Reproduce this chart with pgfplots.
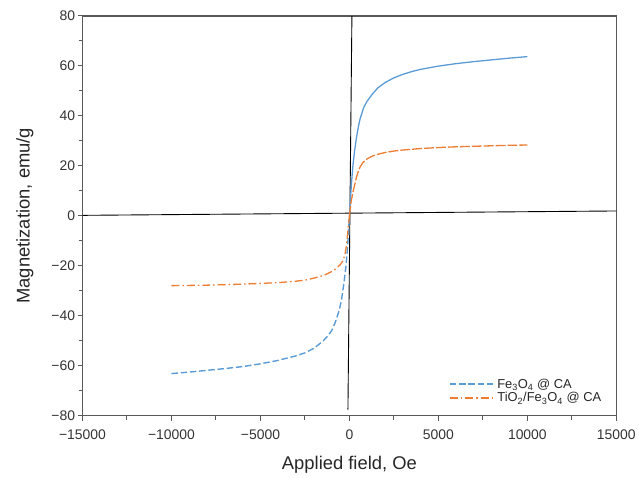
\documentclass[border=0pt]{standalone}
\usepackage{fontspec}
\setmainfont{Liberation Sans}
\usepackage{pgfplots}
\pgfplotsset{compat=1.18}

\definecolor{exblue}{HTML}{5B9BD5}
\definecolor{exorange}{HTML}{ED7D31}
\definecolor{framegray}{HTML}{595959}

\begin{document}
\begin{tikzpicture}
\begin{axis}[
  scale only axis,
  width=537pt, height=402pt,
  at={(0,0)}, anchor=south west,
  xmin=-15000, xmax=15000, ymin=-80, ymax=80,
  scaled x ticks=false,
  xtick={-15000,-10000,-5000,0,5000,10000,15000},
  xticklabels={−15000,−10000,−5000,0,5000,10000,15000},
  ytick={-80,-60,-40,-20,0,20,40,60,80},
  yticklabels={−80,−60,−40,−20,0,20,40,60,80},
  minor x tick num=1, minor y tick num=1,
  tick align=outside,
  xtick pos=bottom, ytick pos=left,
  major tick length=5pt, minor tick length=4pt,
  every tick/.style={framegray, line width=1pt},
  axis line style={framegray, line width=1.6pt},
  ticklabel style={font=\fontsize{14}{16}\selectfont, text=black!80},
  xticklabel style={yshift=-6pt},
  yticklabel style={xshift=1pt},
  xlabel={Applied field, Oe},
  ylabel={Magnetization, emu/g},
  label style={font=\fontsize{18.5}{22}\selectfont, text=black!85},
  xlabel style={at={(axis description cs:0.5,-0.122)}, anchor=center},
  ylabel style={at={(axis description cs:-0.108,0.5)}, anchor=center},
  legend style={draw=none, fill=none, font=\fontsize{13}{15}\selectfont,
    at={(1,0)}, anchor=south east, xshift=-10pt, yshift=8pt,
    row sep=-1pt, text=black!85},
  legend cell align=left,
  legend image code/.code={\draw[#1] (0pt,0pt) -- (45pt,0pt);},
]
% zero lines (slightly slanted, as in the original)
\draw[black, line width=0.9pt] (axis cs:-15000,0.15) -- (axis cs:15000,1.9);
\draw[black, line width=0.9pt] (axis cs:140,80) -- (axis cs:-84,-77.6);

% Fe3O4 @ CA
\addplot[exblue, line width=1.4pt, dash pattern=on 6.5pt off 2.8pt] coordinates {
  (-10000,-63.2) (-9000,-62.6) (-8000,-61.9) (-7000,-61.2) (-6000,-60.4)
  (-5000,-59.3) (-4000,-57.9) (-3000,-56.1) (-2500,-54.9) (-2000,-53.1)
  (-1500,-50.3) (-1200,-48.0) (-1000,-46.0) (-800,-42.8) (-600,-38.5)
  (-450,-34.0) (-300,-26.5) (-200,-20.5) (-120,-14.0) (-60,-7.5) (0,0)
};
\addlegendentry{Fe\textsubscript{3}O\textsubscript{4} @ CA}
\addplot[exblue, line width=1.3pt, forget plot] coordinates {
  (0,0) (60,7.0) (120,13.5) (200,20.3) (300,26.5) (400,31.5) (500,35.5)
  (600,38.8) (800,43.3) (1000,45.9) (1300,48.8) (1600,51.2) (2000,53.3)
  (2500,55.2) (3000,56.6) (3500,57.7) (4000,58.6) (5000,59.9) (6000,60.9)
  (7000,61.7) (8000,62.4) (9000,63.1) (10000,63.7)
};

% TiO2/Fe3O4 @ CA
\addplot[exorange, line width=1.3pt, dash pattern=on 8pt off 3pt on 1.5pt off 3pt] coordinates {
  (-10000,-28.0) (-9000,-27.9) (-8000,-27.8) (-7000,-27.6) (-6000,-27.4)
  (-5000,-27.1) (-4000,-26.8) (-3000,-26.2) (-2500,-25.8) (-2000,-25.0)
  (-1500,-24.0) (-1200,-23.1) (-900,-22.0) (-700,-20.8) (-500,-19.5)
  (-350,-17.8) (-250,-15.5) (-180,-12.5) (-120,-8.5) (-60,-4.0) (0,0)
};
\addlegendentry{TiO\textsubscript{2}/Fe\textsubscript{3}O\textsubscript{4} @ CA}
\addplot[exorange, line width=1.3pt, dash pattern=on 10pt off 2pt, forget plot] coordinates {
  (0,0) (50,3.0) (100,5.8) (200,9.5) (300,12.5) (400,15.5) (500,17.8)
  (600,19.5) (750,21.2) (1000,22.8) (1300,23.9) (1600,24.6) (2000,25.3)
  (2500,25.9) (3000,26.3) (4000,26.9) (5000,27.3) (6000,27.6) (7000,27.8)
  (8000,28.0) (9000,28.2) (10000,28.3)
};
\end{axis}
\path[use as bounding box] (-83pt,-62pt) rectangle (556pt,418pt);
\end{tikzpicture}
\end{document}
